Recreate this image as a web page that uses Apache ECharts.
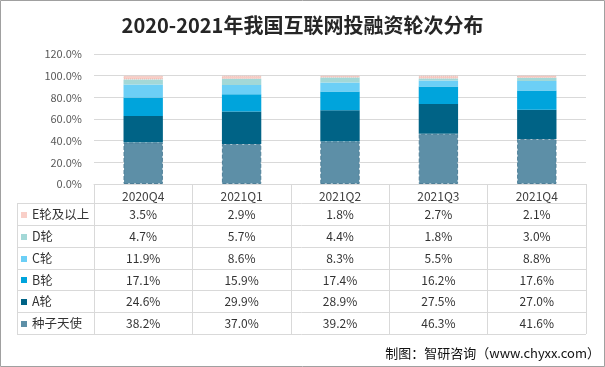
<!DOCTYPE html>
<html><head><meta charset="utf-8">
<script src="https://cdn.jsdelivr.net/npm/echarts@6/dist/echarts.min.js"></script>
<style>html,body{margin:0;padding:0;background:#fff}#c{width:605px;height:367px}</style>
</head><body><div id="c"></div>
<script>
const categories = ['2020Q4','2021Q1','2021Q2','2021Q3','2021Q4'];
const seriesNames = ['种子天使','A轮','B轮','C轮','D轮','E轮及以上'];
const seed = [38.2,37.0,39.2,46.3,41.6];
const roundA = [24.6,29.9,28.9,27.5,27.0];
const roundB = [17.1,15.9,17.4,16.2,17.6];
const roundC = [11.9,8.6,8.3,5.5,8.8];
const roundD = [4.7,5.7,4.4,1.8,3.0];
const roundE = [3.5,2.9,1.8,2.7,2.1];
const colors = ['#5D8FA7','#006386','#00A4DC','#6CCFF6','#A3D8D7','#F9CFC8'];
const borders = ['#4E7F98', null, null, null, null, '#E9B7AE'];
const allData = [seed, roundA, roundB, roundC, roundD, roundE];

const FONT = '"Microsoft YaHei","Noto Sans CJK SC","Noto Sans",sans-serif';
const chart = echarts.init(document.getElementById('c'), null, {renderer:'canvas'});

const gridLeft = 94, gridRight = 586, gridTop = 54, gridBottom = 184;
const rowLines = [203, 225, 247, 269, 290, 312, 334];

const series = seriesNames.map((n, k) => ({
  name: n, type: 'bar', stack: 'total', barWidth: '40%',
  data: allData[k],
  itemStyle: {
    color: colors[k],
    borderColor: borders[k] || colors[k],
    borderWidth: borders[k] ? 1 : 0,
    borderType: k === 0 ? 'dashed' : 'dotted'
  },
  emphasis: {disabled: true}
}));

chart.setOption({
  animation: false,
  backgroundColor: '#fff',
  title: {
    text: '2020-2021年我国互联网投融资轮次分布',
    left: 'center', top: 10,
    textStyle: {fontFamily: FONT, fontSize: 20, fontWeight: 'bold', color: '#262626'}
  },
  grid: {left: gridLeft, right: 605 - gridRight, top: gridTop, bottom: 367 - gridBottom, containLabel: false},
  xAxis: {
    type: 'category', data: categories,
    axisLine: {lineStyle: {color: '#D9D9D9'}},
    axisTick: {show: true, interval: 0, length: rowLines[rowLines.length-1] - gridBottom, lineStyle: {color: '#D9D9D9'}},
    axisLabel: {margin: 6, color: '#404040', fontSize: 12, fontFamily: FONT}
  },
  yAxis: {
    type: 'value', min: 0, max: 120, interval: 20,
    axisLine: {show: false}, axisTick: {show: false},
    splitLine: {lineStyle: {color: '#D9D9D9'}},
    axisLabel: {margin: 12, color: '#595959', fontSize: 11, fontFamily: FONT,
      formatter: v => v.toFixed(1) + '%'}
  },
  series: series
});

// Build data table
const g = [];
g.push({type:'rect', shape:{x:0.5, y:0.5, width:604, height:366}, style:{fill:'none', stroke:'#A0A0A0', lineWidth:1}, silent:true});
rowLines.forEach(y => {
  g.push({type:'line', shape:{x1:17, y1:y+0.5, x2:gridRight, y2:y+0.5}, style:{stroke:'#D9D9D9', lineWidth:1}, silent:true});
});
g.push({type:'line', shape:{x1:17.5, y1:rowLines[0], x2:17.5, y2:rowLines[rowLines.length-1]}, style:{stroke:'#D9D9D9', lineWidth:1}, silent:true});

const tableOrder = [5,4,3,2,1,0];
tableOrder.forEach((k, r) => {
  const yc = (rowLines[r] + rowLines[r+1]) / 2 + 0.5;
  g.push({type:'rect', shape:{x:21, y:Math.round(yc)-3, width:6, height:6}, style:{fill:colors[k]}, silent:true});
  g.push({type:'text', x:32, y:yc, style:{text:seriesNames[k], fill:'#333', font:'12.5px ' + FONT, textVerticalAlign:'middle', textAlign:'left'}, silent:true});
  categories.forEach((c, i) => {
    const px = chart.convertToPixel({xAxisIndex:0}, c);
    g.push({type:'text', x:px, y:yc, style:{text:allData[k][i].toFixed(1) + '%', fill:'#333', font:'12px ' + FONT, textAlign:'center', textVerticalAlign:'middle'}, silent:true});
  });
});
g.push({type:'text', right: 5, top: 347, style:{text:'制图：智研咨询（www.chyxx.com）', fill:'#111', font:'13px ' + FONT}, silent:true});

chart.setOption({graphic: g});
</script></body></html>
